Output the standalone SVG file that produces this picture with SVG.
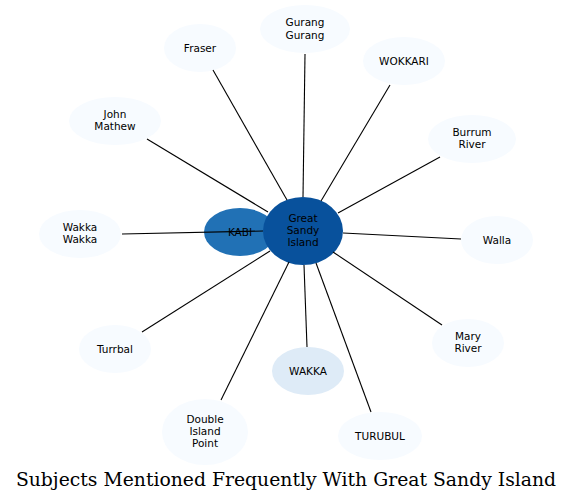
<svg xmlns="http://www.w3.org/2000/svg" width="573" height="502" viewBox="0 0 573 502">
<style>
.n{fill:#f7fbff}
.l{font-family:"DejaVu Sans",sans-serif;font-size:10.5px;text-anchor:middle;fill:#000}
.e line{stroke:#000;stroke-width:1.1}
.t{font-family:"DejaVu Serif",serif;font-size:18.8px;text-anchor:middle;fill:#000}
</style>
<rect width="573" height="502" fill="#fff"/>
<g id="n-gurang"><ellipse class="n" cx="305" cy="29" rx="45" ry="24"/><text class="l" x="305" y="26">Gurang</text><text class="l" x="305" y="39">Gurang</text></g>
<g id="n-fraser"><ellipse class="n" cx="200" cy="48" rx="36" ry="24"/><text class="l" x="200" y="52">Fraser</text></g>
<g id="n-wokkari"><ellipse class="n" cx="404" cy="61" rx="41" ry="24"/><text class="l" x="404" y="65">WOKKARI</text></g>
<g id="n-john"><ellipse class="n" cx="115" cy="121" rx="46" ry="24"/><text class="l" x="115" y="118">John</text><text class="l" x="115" y="130">Mathew</text></g>
<g id="n-burrum"><ellipse class="n" cx="472" cy="139" rx="44" ry="24"/><text class="l" x="472" y="136">Burrum</text><text class="l" x="472" y="148">River</text></g>
<g id="n-wakkawakka"><ellipse class="n" cx="80" cy="234" rx="41" ry="24"/><text class="l" x="80" y="231">Wakka</text><text class="l" x="80" y="243">Wakka</text></g>
<g id="n-walla"><ellipse class="n" cx="497" cy="240" rx="36" ry="24"/><text class="l" x="497" y="244">Walla</text></g>
<g id="n-turrbal"><ellipse class="n" cx="115" cy="349" rx="36" ry="24"/><text class="l" x="115" y="353">Turrbal</text></g>
<g id="n-mary"><ellipse class="n" cx="468" cy="343" rx="36" ry="24"/><text class="l" x="468" y="340">Mary</text><text class="l" x="468" y="352">River</text></g>
<g id="n-wakka"><ellipse cx="308" cy="371" rx="36" ry="24" fill="#deebf7"/><text class="l" x="308" y="375">WAKKA</text></g>
<g id="n-double"><ellipse class="n" cx="205" cy="432" rx="43" ry="33"/><text class="l" x="205" y="423">Double</text><text class="l" x="205" y="435">Island</text><text class="l" x="205" y="447">Point</text></g>
<g id="n-turubul"><ellipse class="n" cx="380" cy="436" rx="42" ry="24"/><text class="l" x="380" y="440">TURUBUL</text></g>
<g id="n-kabi"><ellipse cx="240" cy="232" rx="36" ry="24" fill="#2171b5"/><text class="l" x="240" y="236">KABI</text></g>
<g id="n-great"><ellipse cx="303" cy="231" rx="40" ry="34" fill="#08519c"/><text class="l" x="303" y="222">Great</text><text class="l" x="303" y="234">Sandy</text><text class="l" x="303" y="246">Island</text></g>
<g id="edges" class="e">
<line x1="213" y1="70" x2="287" y2="200"/>
<line x1="305" y1="54" x2="303" y2="197"/>
<line x1="390" y1="85" x2="321" y2="201"/>
<line x1="147" y1="139" x2="268" y2="212"/>
<line x1="440" y1="157" x2="338" y2="213"/>
<line x1="122" y1="234" x2="263" y2="231"/>
<line x1="461" y1="239" x2="343" y2="233"/>
<line x1="142" y1="332" x2="270" y2="251"/>
<line x1="442" y1="325" x2="333" y2="252"/>
<line x1="307" y1="347" x2="304" y2="265"/>
<line x1="221" y1="400" x2="289" y2="262"/>
<line x1="371" y1="412" x2="316" y2="263"/>
</g>
<text class="t" x="286" y="486">Subjects Mentioned Frequently With Great Sandy Island</text>
</svg>
